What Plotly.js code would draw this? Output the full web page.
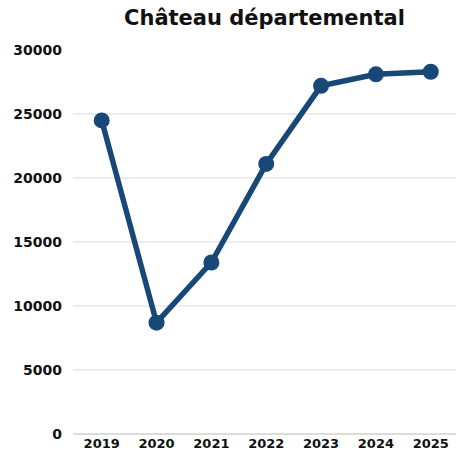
<!DOCTYPE html>
<html>
<head>
<meta charset="utf-8">
<script src="https://cdn.plot.ly/plotly-3.0.1.min.js"></script>
<style>html,body{margin:0;padding:0;background:#fff;}#chart{width:456px;height:460px;}</style>
</head>
<body>
<div id="chart"></div>
<script>
const years = ["2019", "2020", "2021", "2022", "2023", "2024", "2025"];
const visitors = [24500, 8700, 13400, 21100, 27200, 28100, 28300];
const yTicks = [0, 5000, 10000, 15000, 20000, 25000, 30000];
const titleText = "Château départemental";

const font = "'DejaVu Sans', sans-serif";
Plotly.newPlot("chart", [{
  x: years,
  y: visitors,
  type: "scatter",
  mode: "lines+markers",
  line: {color: "#174878", width: 5.5},
  marker: {color: "#174878", size: 16},
  hoverinfo: "skip"
}], {
  width: 456, height: 460,
  margin: {l: 73, r: 0, t: 50, b: 26},
  paper_bgcolor: "#fff", plot_bgcolor: "#fff",
  showlegend: false,
  title: {text: titleText, x: 0.58, xanchor: "center", y: 0.962, yanchor: "middle",
    font: {family: font, size: 21, weight: 700, color: "#111"}},
  xaxis: {type: "category", range: [-0.523, 6.46], showgrid: false, zeroline: false,
    showline: false, ticks: "", tickfont: {family: font, size: 13, weight: 700, color: "#111"}},
  yaxis: {range: [0, 30000], tickvals: yTicks, ticktext: yTicks.map(String),
    showgrid: true, gridcolor: "#ececec", gridwidth: 1.5, zeroline: true, zerolinecolor: "#dcdcdc", zerolinewidth: 2,
    showline: false, ticks: "", ticklabelstandoff: 10,
    tickfont: {family: font, size: 14, weight: 700, color: "#111"}},
  font: {family: font}
}, {displayModeBar: false, staticPlot: true});
</script>
</body>
</html>
